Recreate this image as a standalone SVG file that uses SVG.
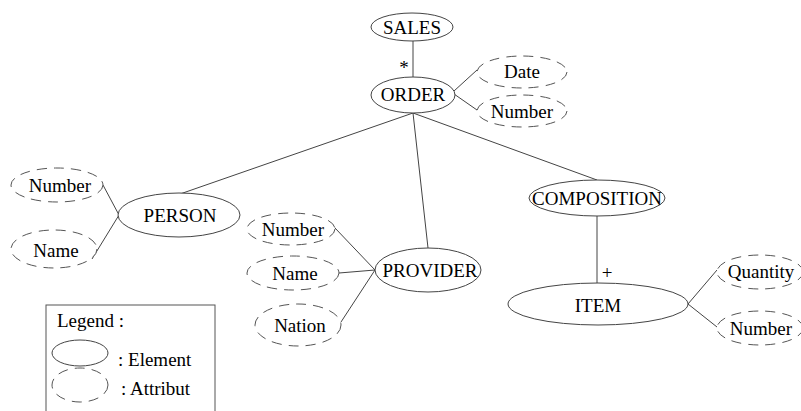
<svg xmlns="http://www.w3.org/2000/svg" width="801" height="411" viewBox="0 0 801 411" font-family="Liberation Serif, Times New Roman, serif">
<style>
.el{fill:#fff;stroke:#444;stroke-width:1}
.at{fill:#fff;stroke:#555;stroke-width:1;stroke-dasharray:10 7}
.t{font-size:19px;fill:#000;text-anchor:middle}
.l{font-size:19px;fill:#000}
.c{stroke:#444;stroke-width:1;fill:none}
</style>
<rect width="801" height="411" fill="#fff"/>
<g id="connectors">
<line class="c" x1="413" y1="41" x2="413" y2="77"/>
<line class="c" x1="454" y1="91" x2="477" y2="70"/>
<line class="c" x1="454" y1="94" x2="477" y2="110"/>
<line class="c" x1="413" y1="113" x2="180" y2="194"/>
<line class="c" x1="413" y1="113" x2="428" y2="248"/>
<line class="c" x1="413" y1="113" x2="597" y2="180"/>
<line class="c" x1="103" y1="185" x2="119" y2="215"/>
<line class="c" x1="92" y1="259" x2="119" y2="215"/>
<line class="c" x1="335" y1="228" x2="375" y2="270"/>
<line class="c" x1="339" y1="273" x2="375" y2="270"/>
<line class="c" x1="341" y1="322" x2="375" y2="270"/>
<line class="c" x1="597" y1="216" x2="597" y2="283"/>
<line class="c" x1="688" y1="304" x2="717" y2="270"/>
<line class="c" x1="688" y1="304" x2="717" y2="327"/>
<text class="t" x="404" y="74">*</text>
<text class="t" x="607" y="279">+</text>
</g>
<g id="sales"><ellipse class="el" cx="412" cy="27" rx="41" ry="14"/><text class="t" x="412" y="34">SALES</text></g>
<g id="order"><ellipse class="el" cx="413" cy="95" rx="42" ry="18"/><text class="t" x="413" y="101">ORDER</text></g>
<g id="order-date"><ellipse class="at" cx="522" cy="72" rx="45" ry="16"/><text class="t" x="522" y="78">Date</text></g>
<g id="order-number"><ellipse class="at" cx="522" cy="111" rx="45" ry="16"/><text class="t" x="522" y="118">Number</text></g>
<g id="person"><ellipse class="el" cx="179" cy="215" rx="61" ry="22"/><text class="t" x="180" y="222">PERSON</text></g>
<g id="person-number"><ellipse class="at" cx="57" cy="185" rx="46" ry="17"/><text class="t" x="60" y="192">Number</text></g>
<g id="person-name"><ellipse class="at" cx="54" cy="249" rx="43" ry="19"/><text class="t" x="56" y="257">Name</text></g>
<g id="provider"><ellipse class="el" cx="428" cy="270" rx="53" ry="22"/><text class="t" x="430" y="277">PROVIDER</text></g>
<g id="provider-number"><ellipse class="at" cx="291" cy="229" rx="44" ry="16"/><text class="t" x="293" y="236">Number</text></g>
<g id="provider-name"><ellipse class="at" cx="293" cy="273" rx="46" ry="17"/><text class="t" x="295" y="280">Name</text></g>
<g id="provider-nation"><ellipse class="at" cx="298" cy="325" rx="43" ry="21"/><text class="t" x="300" y="332">Nation</text></g>
<g id="composition"><ellipse class="el" cx="597" cy="198" rx="68" ry="18"/><text class="t" x="597" y="205">COMPOSITION</text></g>
<g id="item"><ellipse class="el" cx="598" cy="304" rx="90" ry="21"/><text class="t" x="598" y="312">ITEM</text></g>
<g id="item-quantity"><ellipse class="at" cx="760" cy="272" rx="43" ry="17"/><text class="t" x="761" y="278">Quantity</text></g>
<g id="item-number"><ellipse class="at" cx="760" cy="328" rx="43" ry="17"/><text class="t" x="761" y="335">Number</text></g>
<g id="legend">
<rect x="46" y="305" width="169" height="110" fill="#fff" stroke="#555" stroke-width="1"/>
<text class="l" x="57" y="327">Legend :</text>
<ellipse class="el" cx="80" cy="353" rx="28" ry="13"/>
<text class="l" x="118" y="366">: Element</text>
<ellipse class="at" cx="80" cy="385" rx="28" ry="17"/>
<text class="l" x="121" y="395">: Attribut</text>
</g>
</svg>
